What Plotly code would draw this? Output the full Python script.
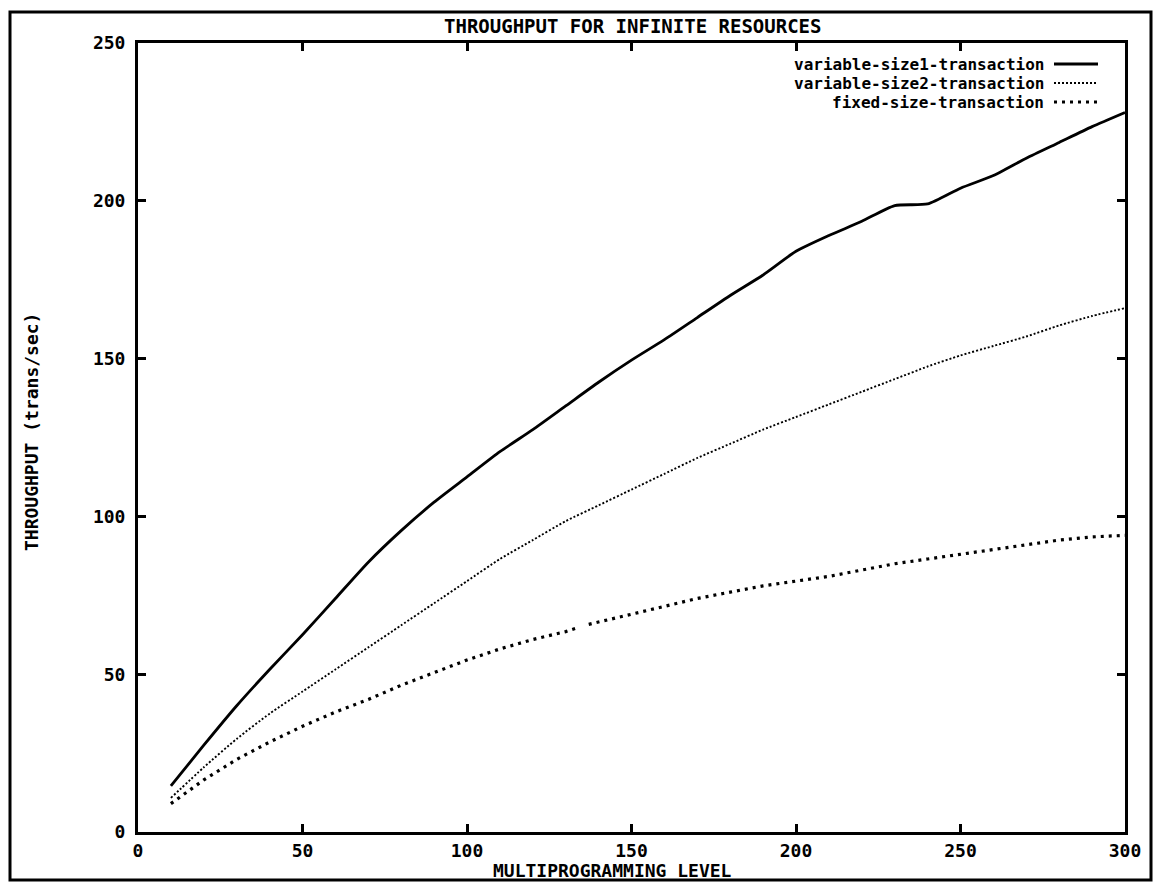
import plotly.graph_objects as go

x_vals = [10, 20, 30, 40, 50, 60, 70, 80, 90, 100, 110, 120, 130, 140, 150,
          160, 170, 180, 190, 200, 210, 220, 230, 240, 250, 260, 270, 280, 290, 300]

size1 = [14.6, 27.5, 40, 51.5, 62.5, 74, 85.5, 95.5, 104.5, 112.5, 120.5, 127.5, 135, 142.5, 149.5,
         156, 163, 170, 176.5, 184, 189, 193.5, 198.5, 199, 204, 208, 213.5, 218.5, 223.5, 228]

size2 = [10.8, 20.5, 29.5, 37.5, 44.5, 51.5, 58.5, 65.5, 72.5, 79.5, 86.5, 92.5, 98.5, 103.5, 108.5,
         113.5, 118.5, 123, 127.5, 131.5, 135.5, 139.5, 143.5, 147.5, 151, 154, 157, 160.5, 163.5, 166]

x_fixed = [10, 20, 30, 40, 50, 60, 70, 80, 90, 100, 110, 120, 130, 133, 135, 137, 140, 150,
           160, 170, 180, 190, 200, 210, 220, 230, 240, 250, 260, 270, 280, 290, 300]
fixed = [9, 16.5, 23, 28.5, 33.5, 38, 42, 46.5, 50.5, 54.5, 58, 61, 63.5, 64.5, None, 65.8, 66.5, 69,
         71.5, 74, 76, 78, 79.5, 81, 83, 85, 86.5, 88, 89.5, 91, 92.5, 93.5, 94]

series_names = ["variable-size1-transaction", "variable-size2-transaction", "fixed-size-transaction"]

x_ticks = [0, 50, 100, 150, 200, 250, 300]
y_ticks = [0, 50, 100, 150, 200, 250]

FONT = "DejaVu Sans Mono"
FS = 19
LFS = 16
styles = [dict(color="black", width=2.8, dash="solid"),
          dict(color="black", width=1.9, dash="2px,2px"),
          dict(color="black", width=3.2, dash="3px,5px")]

fig = go.Figure()
fig.add_trace(go.Scatter(x=x_vals, y=size1, mode="lines", name=series_names[0],
                         line=dict(styles[0], shape="spline", smoothing=0.6), showlegend=False))
fig.add_trace(go.Scatter(x=x_vals, y=size2, mode="lines", name=series_names[1],
                         line=dict(styles[1], shape="spline", smoothing=0.6), showlegend=False))
fig.add_trace(go.Scatter(x=x_fixed, y=fixed, mode="lines", name=series_names[2],
                         line=styles[2], connectgaps=False, showlegend=False))

# plot area in pixels
L, R, T, B = 138, 1125, 43, 832
W, H = 1160, 884
pw, ph = R - L, B - T

def px(xp):
    return (xp - L) / pw

def py(yp):
    return (B - yp) / ph

shapes = []
annotations = []
# manual legend (text right-aligned, sample line on the right)
leg_rows = [64, 83, 102]
for i, name in enumerate(series_names):
    annotations.append(dict(x=px(1046), y=py(leg_rows[i]), xref="paper", yref="paper",
                            text=name, showarrow=False, xanchor="right", yanchor="middle",
                            font=dict(family=FONT, size=LFS, color="black", weight="bold")))
    st = styles[i]
    shapes.append(dict(type="line", xref="paper", yref="paper",
                       x0=px(1054), x1=px(1098), y0=py(leg_rows[i]), y1=py(leg_rows[i]),
                       line=dict(color="black", width=st["width"], dash=st["dash"])))

# outer border
shapes.append(dict(type="rect", xref="paper", yref="paper",
                   x0=px(10), x1=px(1151), y0=py(880), y1=py(12),
                   line=dict(color="black", width=3)))

annotations.append(dict(x=px(633), y=py(26), xref="paper", yref="paper",
                        text="THROUGHPUT FOR INFINITE RESOURCES", showarrow=False,
                        xanchor="center", yanchor="middle",
                        font=dict(family=FONT, size=FS, color="black", weight="bold")))
annotations.append(dict(x=px(612), y=py(870), xref="paper", yref="paper",
                        text="MULTIPROGRAMMING LEVEL", showarrow=False,
                        xanchor="center", yanchor="middle",
                        font=dict(family=FONT, size=FS - 1, color="black", weight="bold")))
annotations.append(dict(x=px(32), y=py(432), xref="paper", yref="paper",
                        text="THROUGHPUT (trans/sec)", showarrow=False, textangle=-90,
                        xanchor="center", yanchor="middle",
                        font=dict(family=FONT, size=FS - 1, color="black", weight="bold")))

axis_common = dict(showline=True, linecolor="black", linewidth=3, mirror="ticks",
                   ticks="inside", ticklen=8, tickwidth=2.5, tickcolor="black",
                   showgrid=False, zeroline=False,
                   tickfont=dict(family=FONT, size=FS - 1, color="black", weight="bold"))

fig.update_layout(
    width=W, height=H,
    margin=dict(l=L, r=W - R, t=T, b=H - B),
    paper_bgcolor="white", plot_bgcolor="white",
    xaxis=dict(range=[0, 300], tickvals=x_ticks, ticktext=[str(v) for v in x_ticks],
               ticklabelstandoff=0, **axis_common),
    yaxis=dict(range=[0, 250], tickvals=y_ticks, ticktext=[str(v) for v in y_ticks],
               ticklabelstandoff=6, **axis_common),
    shapes=shapes, annotations=annotations, showlegend=False,
)

fig.write_html("out.html")
